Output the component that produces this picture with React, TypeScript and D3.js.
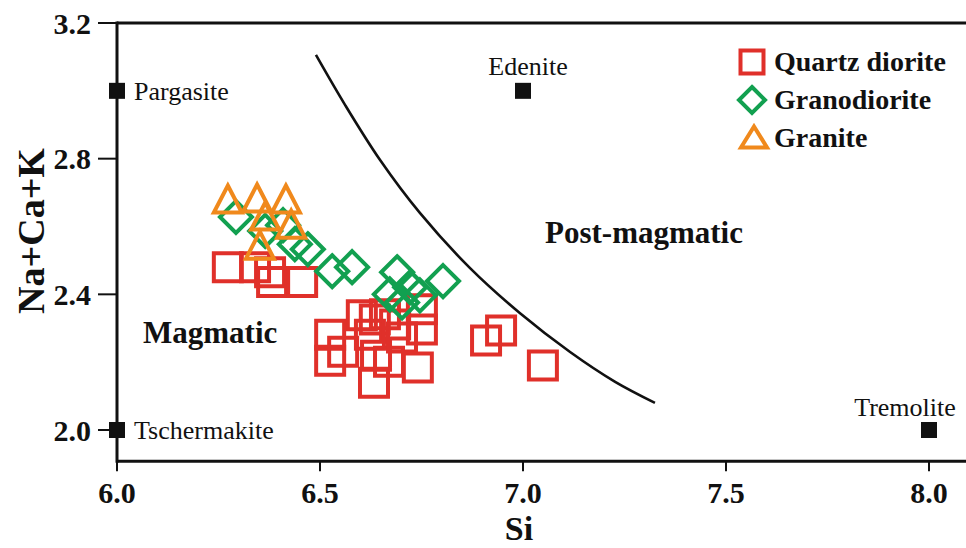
import React from "react";
import * as d3 from "d3";

// Si (apfu) and Na+Ca+K (apfu) for each lithology
const quartzDioriteSi = [6.273, 6.340, 6.377, 6.382, 6.456, 6.603, 6.525, 6.525, 6.557, 6.633, 6.638, 6.670, 6.741, 6.751, 6.751, 6.702, 6.635, 6.660, 6.685, 6.623, 6.909, 6.946, 7.049];
const quartzDioriteNaCaK = [2.480, 2.480, 2.465, 2.436, 2.436, 2.338, 2.281, 2.204, 2.231, 2.139, 2.219, 2.201, 2.184, 2.356, 2.296, 2.273, 2.326, 2.341, 2.311, 2.281, 2.264, 2.293, 2.190];

const granodioriteSi = [6.293, 6.365, 6.409, 6.438, 6.470, 6.530, 6.579, 6.690, 6.672, 6.702, 6.722, 6.746, 6.803];
const granodioriteNaCaK = [2.628, 2.587, 2.604, 2.548, 2.533, 2.468, 2.480, 2.465, 2.400, 2.376, 2.421, 2.397, 2.439];

const graniteSi = [6.273, 6.345, 6.416, 6.365, 6.429, 6.352];
const graniteNaCaK = [2.681, 2.684, 2.681, 2.631, 2.607, 2.545];

// End-member amphiboles
const endMemberNames = ["Pargasite", "Edenite", "Tschermakite", "Tremolite"];
const endMemberSi = [6.0, 7.0, 6.0, 8.0];
const endMemberNaCaK = [3.0, 3.0, 2.0, 2.0];

// Magmatic / post-magmatic boundary
const boundarySi = [6.490, 6.562, 6.648, 6.746, 6.869, 6.992, 7.116, 7.227, 7.325];
const boundaryNaCaK = [3.106, 2.958, 2.796, 2.640, 2.478, 2.345, 2.230, 2.142, 2.080];

const xTicks = [6.0, 6.5, 7.0, 7.5, 8.0];
const yTicks = [2.0, 2.4, 2.8, 3.2];

const seriesNames = ["Quartz diorite", "Granodiorite", "Granite"];
const RED = "#e0302a";
const GREEN = "#12a050";
const ORANGE = "#f0891c";

const W = 966;
const H = 548;
const FONT = "'Liberation Serif', 'Times New Roman', serif";

const x = d3.scaleLinear().domain([6, 8]).range([117, 929]);
const y = d3.scaleLinear().domain([2, 3.2]).range([430, 23]);
const yBottom = 1.908;
const xRight = x.invert(W + 5);

function squarePath(s: number) {
  const h = s / 2;
  return `M${-h},${-h}H${h}V${h}H${-h}Z`;
}
function diamondPath(r: number) {
  return `M0,${-r}L${r},0L0,${r}L${-r},0Z`;
}
function trianglePath(w: number, h: number) {
  return `M0,${-h / 2}L${w / 2},${h / 2}L${-w / 2},${h / 2}Z`;
}

// label placement for end members: [dx, dy, anchor]
const endMemberLabelPos: [number, number, string][] = [
  [17, 9, "start"],
  [5, -16, "middle"],
  [17, 9, "start"],
  [-24, -14, "middle"],
];

export default function App() {
  const boundary = d3
    .line<number>()
    .x((_, i) => x(boundarySi[i]))
    .y((_, i) => y(boundaryNaCaK[i]))
    .curve(d3.curveCatmullRom.alpha(0.5))(boundarySi);

  const x0 = x(6);
  const yAxisPx = y(yBottom);

  return (
    <div style={{ position: "fixed", left: 0, top: 0, width: W, height: H, background: "#fff" }}>
      <svg width={W} height={H} style={{ display: "block", fontFamily: FONT }}>
        <rect width={W} height={H} fill="#fff" />

        {/* boundary curve */}
        <path d={boundary ?? ""} fill="none" stroke="#111" strokeWidth={2.6} />

        {/* Quartz diorite */}
        {quartzDioriteSi.map((s, i) => (
          <path
            key={"q" + i}
            d={squarePath(28)}
            transform={`translate(${x(s)},${y(quartzDioriteNaCaK[i])})`}
            fill="none"
            stroke={RED}
            strokeWidth={4}
          />
        ))}
        {/* Granodiorite */}
        {granodioriteSi.map((s, i) => (
          <path
            key={"g" + i}
            d={diamondPath(16)}
            transform={`translate(${x(s)},${y(granodioriteNaCaK[i])})`}
            fill="none"
            stroke={GREEN}
            strokeWidth={4}
          />
        ))}
        {/* Granite */}
        {graniteSi.map((s, i) => (
          <path
            key={"t" + i}
            d={trianglePath(28, 27)}
            transform={`translate(${x(s)},${y(graniteNaCaK[i])})`}
            fill="none"
            stroke={ORANGE}
            strokeWidth={4}
            strokeLinejoin="miter"
          />
        ))}

        {/* axes */}
        <line x1={x0} x2={W + 5} y1={y(3.2)} y2={y(3.2)} stroke="#111" strokeWidth={3} />
        <line x1={x0} x2={x(xRight)} y1={yAxisPx} y2={yAxisPx} stroke="#111" strokeWidth={3} />
        <line x1={x0} x2={x0} y1={y(3.2) - 1.5} y2={yAxisPx + 1.5} stroke="#111" strokeWidth={3} />

        {yTicks.map((t) => (
          <g key={"yt" + t}>
            <line x1={x0 - 19} x2={x0} y1={y(t)} y2={y(t)} stroke="#111" strokeWidth={2} />
            <text
              x={x0 - 26}
              y={y(t)}
              dy="0.35em"
              textAnchor="end"
              fontWeight="bold"
              fontSize={30}
              fill="#111"
            >
              {t.toFixed(1)}
            </text>
          </g>
        ))}
        {xTicks.map((t) => (
          <g key={"xt" + t}>
            <line x1={x(t)} x2={x(t)} y1={yAxisPx} y2={yAxisPx + 10} stroke="#111" strokeWidth={2} />
            <text
              x={x(t)}
              y={yAxisPx + 42}
              textAnchor="middle"
              fontWeight="bold"
              fontSize={30}
              fill="#111"
            >
              {t.toFixed(1)}
            </text>
          </g>
        ))}

        {/* axis titles */}
        <text x={519} y={540} textAnchor="middle" fontWeight="bold" fontSize={34} fill="#111">
          Si
        </text>
        <text
          transform={`translate(44,${231}) rotate(-90)`}
          textAnchor="middle"
          fontWeight="bold"
          fontSize={38}
          fill="#111"
        >
          Na+Ca+K
        </text>

        {/* end members */}
        {endMemberNames.map((name, i) => {
          const cx = x(endMemberSi[i]);
          const cy = y(endMemberNaCaK[i]);
          const [dx, dy, anchor] = endMemberLabelPos[i];
          return (
            <g key={name}>
              <rect x={cx - 8} y={cy - 8} width={16} height={16} fill="#111" />
              <text x={cx + dx} y={cy + dy} textAnchor={anchor} fontSize={26} fill="#111">
                {name}
              </text>
            </g>
          );
        })}

        {/* field labels */}
        <text x={143} y={343} fontWeight="bold" fontSize={31} fill="#111">
          Magmatic
        </text>
        <text x={545} y={243} fontWeight="bold" fontSize={31} fill="#111">
          Post-magmatic
        </text>

        {/* legend */}
        <g>
          <path d={squarePath(23)} transform="translate(752,62)" fill="none" stroke={RED} strokeWidth={4} />
          <path d={diamondPath(13)} transform="translate(752,100)" fill="none" stroke={GREEN} strokeWidth={4} />
          <path d={trianglePath(26, 21)} transform="translate(754,137)" fill="none" stroke={ORANGE} strokeWidth={4} />
          {seriesNames.map((n, i) => (
            <text key={n} x={774} y={71 + i * 38} fontWeight="bold" fontSize={28} fill="#111">
              {n}
            </text>
          ))}
        </g>
      </svg>
    </div>
  );
}
